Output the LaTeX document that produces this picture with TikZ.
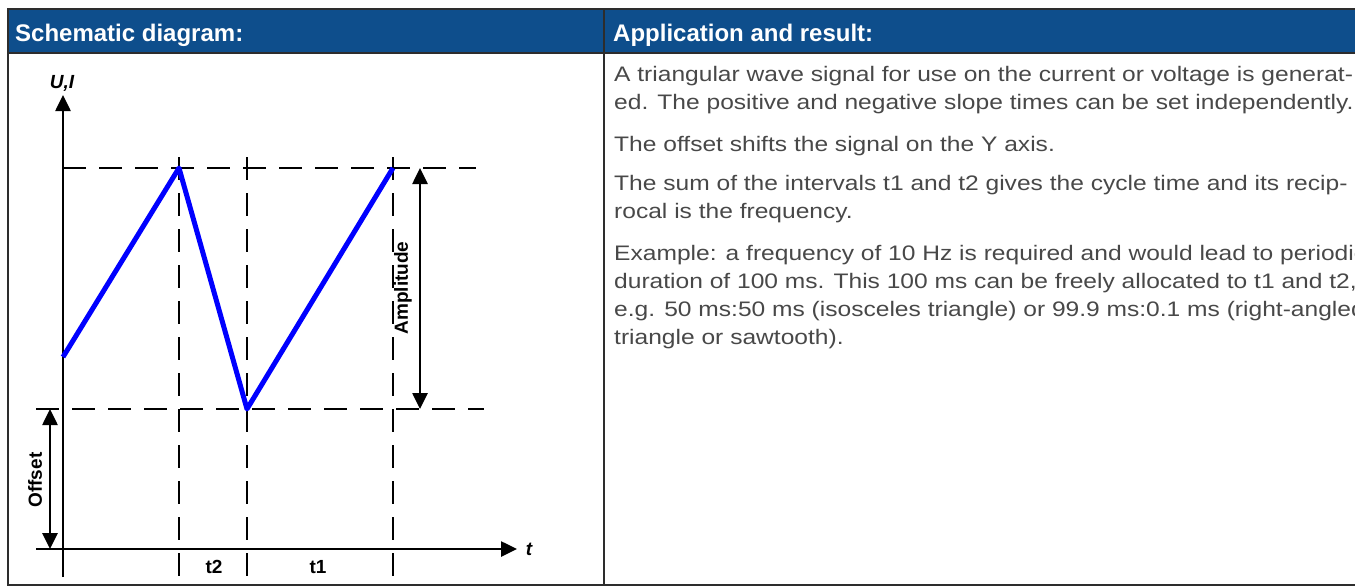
\documentclass[tikz,border=0pt]{standalone}
\usepackage{fontspec}
\setmainfont{Liberation Sans}
\newfontfamily\bodyfont{Liberation Sans}[FakeStretch=1.17]
\usepackage{xcolor}
\usepackage{tikz}
\usetikzlibrary{arrows.meta}
\definecolor{headblue}{RGB}{14,78,140}
\definecolor{tablerule}{RGB}{45,45,45}
\definecolor{bodygray}{RGB}{72,72,72}
\definecolor{wave}{RGB}{0,0,255}

\begin{document}
\begin{tikzpicture}[x=1pt,y=-1pt,
  guide/.style={black,line width=2.6pt,dash pattern=on 23pt off 13pt},
  axis/.style={black,line width=2.6pt,-{Triangle[length=16pt,width=15pt]}},
  dim/.style={black,line width=2.6pt,{Triangle[length=16pt,width=15pt]}-{Triangle[length=16pt,width=15pt]}},
  lbl/.style={font=\fontsize{19}{22}\selectfont\bfseries,inner sep=0pt},
  head/.style={font=\fontsize{24}{28}\selectfont\bfseries,text=white,anchor=base west,inner sep=0pt},
  para/.style={font=\bodyfont\fontsize{21}{28}\selectfont,text=bodygray,align=left,anchor=base west,inner sep=0pt}]
 \useasboundingbox (0,0) rectangle (1355,587);
 % table
 \fill[headblue] (8,9) rectangle (1362,53);
 \draw[tablerule,line width=2.5pt] (1362,9) -- (8,9) -- (8,585) -- (1362,585);
 \draw[tablerule,line width=2.5pt] (8,53) -- (1362,53) (604,9) -- (604,585);
 \node[head] (hleft) at (15,41) {Schematic diagram:};
 \node[head] (hright) at (613,41) {Application and result:};
 % axes
 \coordinate (ybot) at (63,577);
 \coordinate (ytop) at (63,95);
 \coordinate (tleft) at (36,549);
 \coordinate (tright) at (517,549);
 \draw[axis] (ybot) -- (ytop);
 \draw[axis] (tleft) -- (tright);
 \node[lbl,font=\fontsize{19}{22}\selectfont\bfseries\itshape,anchor=base] (ylab) at (62,88) {U,I};
 \node[lbl,font=\fontsize{19}{22}\selectfont\bfseries\itshape,anchor=base] (tlab) at (529,555) {t};
 % guides
 \coordinate (hi0) at (63,168);
 \coordinate (hi1) at (476,168);
 \coordinate (lo0) at (36,409);
 \coordinate (lo1) at (484,409);
 \draw[guide] (hi0) -- (hi1);
 \draw[guide] (lo0) -- (lo1);
 \foreach \gx in {179,247,393}
  \draw[guide] (\gx,157) -- (\gx,577);
 % signal
 \coordinate (w0) at (63,357);
 \coordinate (w1) at (179,168);
 \coordinate (w2) at (247,409);
 \coordinate (w3) at (393,168);
 \draw[wave,line width=5pt,line join=round] (w0) -- (w1) -- (w2) -- (w3);
 % dimensions
 \coordinate (amptop) at (420,168);
 \coordinate (ampbot) at (420,409);
 \coordinate (offtop) at (50,409);
 \coordinate (offbot) at (50,549);
 \draw[dim] (amptop) -- (ampbot);
 \draw[dim] (offtop) -- (offbot);
 \node[lbl,rotate=90] (amplab) at (403,288) {Amplitude};
 \node[lbl,rotate=90] (offlab) at (35,480) {Offset};
 \node[lbl,anchor=base] (t2lab) at (214,573) {t2};
 \node[lbl,anchor=base] (t1lab) at (318,573) {t1};
 % text (anchored on the last line)
 \node[para] (p1) at (614,109.5) {A triangular wave signal for use on the current or voltage is generat-\\ed. The positive and negative slope times can be set independently.};
 \node[para] (p2) at (614,151) {The offset shifts the signal on the Y axis.};
 \node[para] (p3) at (614,218) {The sum of the intervals t1 and t2 gives the cycle time and its recip-\\rocal is the frequency.};
 \node[para] (p4) at (614,344) {Example: a frequency of 10 Hz is required and would lead to periodic\\duration of 100 ms. This 100 ms can be freely allocated to t1 and t2,\\e.g. 50 ms:50 ms (isosceles triangle) or 99.9 ms:0.1 ms (right-angled\\triangle or sawtooth).};
\end{tikzpicture}
\end{document}
